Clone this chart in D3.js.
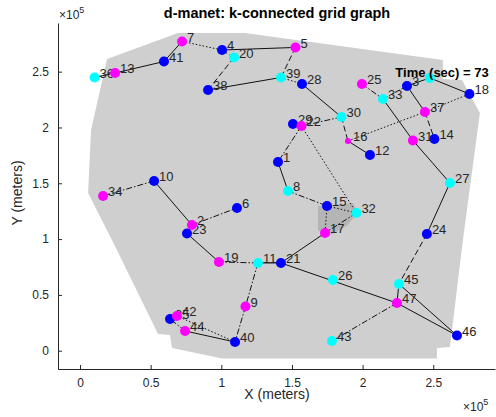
<!DOCTYPE html>
<html><head><meta charset="utf-8">
<script src="https://cdn.jsdelivr.net/npm/d3@7"></script>
<style>body{margin:0;background:#fff}svg{display:block;font-family:"Liberation Sans",Arial,sans-serif}</style>
</head><body><svg id="c" width="496" height="417"></svg>
<script>
// node ids, coordinates (x 1e5 m, y 1e5 m) and group colour
const nodeIds = [1,2,3,4,5,6,7,8,9,10,11,12,13,14,15,16,17,18,19,20,21,22,23,24,25,26,27,28,29,30,31,32,33,34,35,36,37,38,39,40,41,42,43,44,45,46,47,48];
const nodeX = [1.401,0.792,2.314,1.005,1.525,1.111,0.722,1.472,1.171,0.524,1.259,2.052,0.248,2.508,1.748,1.896,1.734,2.756,0.983,1.090,1.422,1.567,0.757,2.455,1.995,1.790,2.618,1.571,1.507,1.850,2.356,1.956,2.144,0.163,0.637,0.103,2.441,0.906,1.422,1.097,0.594,0.686,1.783,0.743,2.257,2.668,2.243,2.476];
const nodeY = [1.691,1.126,2.372,2.694,2.717,1.279,2.771,1.431,0.396,1.521,0.786,1.754,2.488,1.897,1.297,1.879,1.055,2.300,0.795,2.627,0.786,2.013,1.050,1.046,2.390,0.634,1.503,2.390,2.031,2.094,1.884,1.234,2.255,1.386,0.284,2.448,2.139,2.336,2.448,0.078,2.591,0.311,0.087,0.177,0.598,0.136,0.427,2.444];
const nodeGroup = ["b","m","b","b","m","b","m","c","m","b","c","b","m","b","b","m","m","b","m","c","b","m","b","b","m","c","c","b","b","c","m","c","c","m","b","c","m","b","c","b","b","m","c","m","c","b","m","c"];
const hiddenLabel = [48];
const smallNodes = [16];
// links: [from, to, style]
const links = [[36,13,"-"],[13,41,"-"],[41,7,"-"],[7,4,":"],[4,5,"-"],[4,20,"--"],[20,38,"--"],[38,39,"-"],[5,39,"--"],[39,28,":"],[28,30,"-"],[30,22,"-."],[29,22,"-"],[22,1,"-."],[22,32,":"],[1,8,"-"],[8,15,"-."],[15,32,":"],[15,17,":"],[32,17,"-."],[17,21,"-"],[30,16,"--"],[16,12,"-"],[16,37,":"],[37,18,":"],[25,33,"-."],[33,3,":"],[33,31,"-"],[31,27,"-"],[3,48,"-"],[48,18,"-"],[3,37,"-"],[37,14,"--"],[27,24,"-"],[24,45,"--"],[45,47,"-"],[45,46,"-"],[47,46,"-"],[21,47,"-"],[47,43,"-."],[21,11,"-"],[11,19,"-."],[11,9,"-."],[9,40,"-."],[40,44,"-"],[40,42,":"],[44,35,"-."],[35,42,"-"],[10,34,"-."],[10,2,"-"],[2,6,"-."],[2,23,"-"],[23,19,"-"]];
// coverage regions (1e5 m)
const coverX = [0.191,0.693,1.167,2.568,2.568,2.703,2.830,2.710,2.618,2.526,2.526,1.005,0.651,0.637,0.552,0.226,0.057,0.078];
const coverY = [2.614,2.847,2.847,2.605,2.435,2.426,2.130,0.992,0.033,0.024,-0.070,-0.070,0.024,0.141,0.150,0.992,1.413,1.978];
const innerX = [1.684,1.932,1.967,1.896,1.748,1.684];
const innerY = [1.297,1.323,1.243,1.126,1.019,1.081];
const tickVals = [0,0.5,1,1.5,2,2.5];
const tickLabels = ["0","0.5","1","1.5","2","2.5"];
const titleText = "d-manet: k-connected grid graph";
const timeText = "Time (sec) = 73";

const svg = d3.select("#c");
const x = d3.scaleLinear().domain([-0.156,2.937]).range([58,495]);
const y = d3.scaleLinear().domain([-0.164,2.936]).range([369,23]);
const colors = {b:"#0000ff", m:"#ff00ff", c:"#00ffff"};
const dash = {"-":null, "--":"6,3", ":":"1.5,2", "-.":"6,2,1.5,2"};

const nodes = nodeIds.map((id,i)=>({id, x:nodeX[i], y:nodeY[i], g:nodeGroup[i]}));
const byId = new Map(nodes.map(n=>[n.id,n]));

const line = d3.line().x(d=>x(d[0])).y(d=>y(d[1]));
svg.append("path").attr("d", line(coverX.map((v,i)=>[v,coverY[i]]))+"Z").attr("fill","#cfcfcf");
svg.append("path").attr("d", line(innerX.map((v,i)=>[v,innerY[i]]))+"Z").attr("fill","#b5b5b5");

// axes
const ax = svg.append("g").attr("transform","translate(0,369)")
  .call(d3.axisBottom(x).tickValues(tickVals).tickFormat((d,i)=>tickLabels[i]).tickSizeInner(-4).tickSizeOuter(0).tickPadding(9));
const ay = svg.append("g").attr("transform","translate(58,0)")
  .call(d3.axisLeft(y).tickValues(tickVals).tickFormat((d,i)=>tickLabels[i]).tickSizeInner(-4).tickSizeOuter(0).tickPadding(9));
[ax,ay].forEach(a=>{a.selectAll("path,line").attr("stroke","#262626");a.selectAll("text").attr("fill","#262626").style("font-size","12px").style("font-family","'Liberation Sans',Arial,sans-serif");});

// links
svg.append("g").selectAll("line").data(links).join("line")
  .attr("x1",d=>x(byId.get(d[0]).x)).attr("y1",d=>y(byId.get(d[0]).y))
  .attr("x2",d=>x(byId.get(d[1]).x)).attr("y2",d=>y(byId.get(d[1]).y))
  .attr("stroke","#111").attr("stroke-width",1)
  .attr("stroke-dasharray",d=>dash[d[2]]);

// nodes by group
["c","b","m"].forEach(g=>{
  const sub = nodes.filter(n=>n.g===g);
  const gg = svg.append("g");
  gg.selectAll("circle").data(sub).join("circle")
    .attr("cx",d=>x(d.x)).attr("cy",d=>y(d.y))
    .attr("r",d=>smallNodes.includes(d.id)?3:5).attr("fill",colors[g]);
  gg.selectAll("text").data(sub.filter(d=>!hiddenLabel.includes(d.id))).join("text")
    .attr("x",d=>x(d.x)+5).attr("y",d=>y(d.y)-3)
    .attr("dominant-baseline","middle")
    .attr("fill","#262626").style("font-size","13px").text(d=>d.id);
});

// titles and labels
svg.append("text").attr("x",277).attr("y",18).attr("text-anchor","middle")
  .style("font-size","14.5px").style("font-weight","bold").attr("fill","#000").text(titleText);
svg.append("text").attr("x",442).attr("y",77).attr("text-anchor","middle")
  .style("font-size","13px").style("font-weight","bold").attr("fill","#000").text(timeText);
svg.append("text").attr("x",277).attr("y",399).attr("text-anchor","middle")
  .style("font-size","14px").attr("fill","#262626").text("X (meters)");
svg.append("text").attr("transform","translate(22,193) rotate(-90)").attr("text-anchor","middle")
  .style("font-size","14px").attr("fill","#262626").text("Y (meters)");
function exp(xp,yp){
  const t = svg.append("text").attr("x",xp).attr("y",yp).attr("fill","#262626").style("font-size","12px");
  t.append("tspan").text("\u00d710");
  t.append("tspan").attr("dy",-6).style("font-size","9px").text("5");
}
exp(59,19);
exp(463,411);
</script></body></html>
